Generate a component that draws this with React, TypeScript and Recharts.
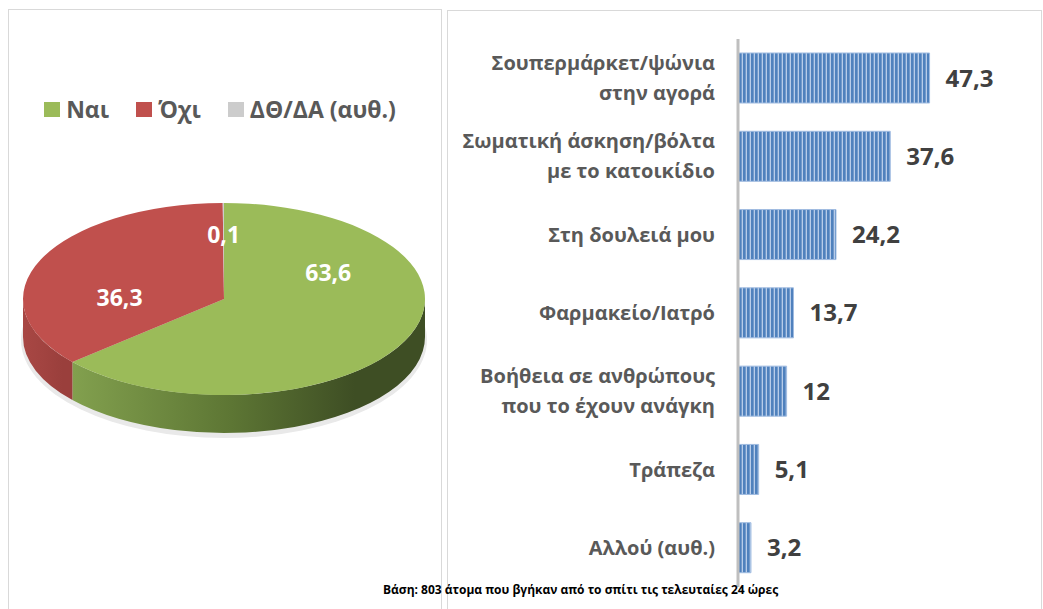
import React from "react";
import {
  PieChart,
  Pie,
  Cell,
  Legend,
  BarChart,
  Bar,
  XAxis,
  YAxis,
  LabelList,
} from "recharts";

/* ── data ── */

const answerNames = ["Ναι", "Όχι", "ΔΘ/ΔΑ (αυθ.)"];
const answerValues = [63.6, 36.3, 0.1];

const placeNames = [
  "Σουπερμάρκετ/ψώνια\nστην αγορά",
  "Σωματική άσκηση/βόλτα\nμε το κατοικίδιο",
  "Στη δουλειά μου",
  "Φαρμακείο/Ιατρό",
  "Βοήθεια σε ανθρώπους\nπου το έχουν ανάγκη",
  "Τράπεζα",
  "Αλλού (αυθ.)",
];
const placeValues = [47.3, 37.6, 24.2, 13.7, 12, 5.1, 3.2];

const footNote = "Βάση: 803 άτομα που βγήκαν από το σπίτι τις τελευταίες 24 ώρες";

/* ── styling ── */

const FONT = "'Open Sans', 'Noto Sans', sans-serif";
const TOP_COLORS = ["#9bbb59", "#c0504d", "#cccccc"];
const SIDE_STOPS = [
  ["#82a04e", "#5d7634", "#3e4e24"],
  ["#a84744", "#a14340", "#9a3f3c"],
  ["#b5b5b5", "#a8a8a8", "#9c9c9c"],
];
const TILT = 96 / 201; // vertical squash of the pie disc
const DEPTH = 38;
const LABEL_LIFT = [0.28, 0.02, 0.68];
const RAD = Math.PI / 180;

const pieData = answerNames.map((name, i) => ({ name, value: answerValues[i] }));
const barData = placeNames.map((place, i) => ({ place, value: placeValues[i] }));

const fmt = (v: number | string) => String(v).replace(".", ",");

/* ── 3D-ish pie slice ── */

function Slice(props: any) {
  const { cx, cy, outerRadius, startAngle, endAngle, fill } = props;
  const idx = Math.max(0, TOP_COLORS.indexOf(fill));
  const rx = outerRadius;
  const ry = outerRadius * TILT;
  const p = (a: number, dy = 0) =>
    `${cx + rx * Math.cos(a * RAD)},${cy - ry * Math.sin(a * RAD) + dy}`;

  const large = Math.abs(startAngle - endAngle) > 180 ? 1 : 0;
  const dir = startAngle > endAngle ? 1 : 0;
  const top = `M${cx},${cy} L${p(startAngle)} A${rx},${ry} 0 ${large} ${dir} ${p(endAngle)} Z`;

  // front wall: only the part of the slice on the lower half of the disc
  const lo = Math.min(startAngle, endAngle);
  const hi = Math.max(startAngle, endAngle);
  const sides: string[] = [];
  for (const k of [-1, 0, 1]) {
    const s = Math.max(lo, -180 + 360 * k);
    const e = Math.min(hi, 360 * k);
    if (e > s) {
      sides.push(
        `M${p(e)} A${rx},${ry} 0 0 1 ${p(s)} L${p(s, DEPTH)} A${rx},${ry} 0 0 0 ${p(e, DEPTH)} Z`
      );
    }
  }
  const gid = `side-grad-${idx}`;
  const stops = SIDE_STOPS[idx];

  return (
    <g>
      <defs>
        <linearGradient id={gid} x1="0" y1="0" x2="1" y2="0">
          <stop offset="0%" stopColor={stops[0]} />
          <stop offset="45%" stopColor={stops[1]} />
          <stop offset="80%" stopColor={stops[2]} />
          <stop offset="100%" stopColor={stops[2]} />
        </linearGradient>
      </defs>
      {idx === 0 && (
        <ellipse cx={cx} cy={cy + DEPTH + 3} rx={rx + 2} ry={ry + 2} fill="#e9e9e9" />
      )}
      {sides.map((d, i) => (
        <path key={i} d={d} fill={`url(#${gid})`} />
      ))}
      <path d={top} fill={fill} />
    </g>
  );
}

function SliceLabel(props: any) {
  const { cx, cy, midAngle, outerRadius, value, index } = props;
  const ry = outerRadius * TILT;
  const x = cx + outerRadius * 0.57 * Math.cos(midAngle * RAD);
  const y = cy - ry * LABEL_LIFT[index];
  return (
    <text
      x={x}
      y={y}
      textAnchor="middle"
      dominantBaseline="central"
      fill="#ffffff"
      fontSize={23}
      fontWeight={700}
      fontFamily={FONT}
    >
      {fmt(value)}
    </text>
  );
}

function PieLegend({ payload }: any) {
  const items = [...(payload ?? [])].sort(
    (a: any, b: any) => answerNames.indexOf(a.value) - answerNames.indexOf(b.value)
  );
  return (
    <div style={{ display: "flex", justifyContent: "center", gap: 27, fontFamily: FONT }}>
      {items.map((it: any, i: number) => (
        <div key={i} style={{ display: "flex", alignItems: "center" }}>
          <span
            style={{
              width: 16,
              height: 15,
              background: it.color ?? TOP_COLORS[i],
              marginRight: 6,
              display: "inline-block",
            }}
          />
          <span style={{ fontSize: 23, fontWeight: 700, color: "#595959", lineHeight: "30px" }}>
            {it.value}
          </span>
        </div>
      ))}
    </div>
  );
}

/* ── bar chart ticks ── */

function PlaceTick({ x, y, payload }: any) {
  const lines = String(payload.value).split("\n");
  const first = lines.length === 1 ? y + 7 : y - 8;
  return (
    <text textAnchor="end" fill="#595959" fontSize={20} fontWeight={700} fontFamily={FONT}>
      {lines.map((line, i) => (
        <tspan key={i} x={x} y={first + i * 30}>
          {line}
        </tspan>
      ))}
    </text>
  );
}

export default function App() {
  const panel: React.CSSProperties = {
    position: "absolute",
    border: "1px solid #d9d9d9",
    boxSizing: "border-box",
    height: 640,
  };

  return (
    <div
      style={{
        position: "absolute",
        left: 0,
        top: 0,
        width: 1043,
        height: 609,
        overflow: "hidden",
        background: "#ffffff",
        fontFamily: FONT,
      }}
    >
      <div style={{ ...panel, left: 8, top: 9, width: 434 }} />
      <div style={{ ...panel, left: 447, top: 10, width: 595 }} />

      <div style={{ position: "absolute", left: 0, top: 0 }}>
        <PieChart width={449} height={609} margin={{ top: 0, right: 0, bottom: 0, left: 0 }}>
          <Pie
            data={pieData}
            dataKey="value"
            nameKey="name"
            cx={224}
            cy={299}
            outerRadius={201}
            startAngle={90}
            endAngle={-270}
            stroke="none"
            shape={Slice}
            activeShape={Slice}
            label={SliceLabel}
            labelLine={false}
            isAnimationActive={false}
          >
            {pieData.map((d, i) => (
              <Cell key={d.name} fill={TOP_COLORS[i]} />
            ))}
          </Pie>
          <Legend
            verticalAlign="bottom"
            content={PieLegend}
            wrapperStyle={{ top: 94, bottom: "auto", left: 0, width: 440 }}
          />
        </PieChart>
      </div>

      <div style={{ position: "absolute", left: 447, top: 0 }}>
        <BarChart
          width={596}
          height={609}
          layout="vertical"
          data={barData}
          margin={{ top: 39, right: 62, bottom: 22, left: 0 }}
        >
          <defs>
            <pattern id="bar-stripes" width="4" height="10" patternUnits="userSpaceOnUse">
              <rect width="4" height="10" fill="#4f81bd" />
              <rect x="2.7" width="1.2" height="10" fill="#c3d5ee" />
            </pattern>
          </defs>
          <XAxis type="number" domain={[0, 60]} hide />
          <YAxis
            type="category"
            dataKey="place"
            width={291}
            interval={0}
            tickLine={false}
            tickSize={0}
            tickMargin={23}
            axisLine={{ stroke: "#bfbfbf", strokeWidth: 3 }}
            tick={PlaceTick}
          />
          <Bar
            dataKey="value"
            barSize={50}
            fill="url(#bar-stripes)"
            stroke="#9fbbe0"
            strokeWidth={1}
            isAnimationActive={false}
          >
            <LabelList
              dataKey="value"
              position="right"
              offset={16}
              formatter={(v: any) => fmt(v)}
              style={{ fill: "#404040", fontSize: 24, fontWeight: 700, fontFamily: FONT }}
            />
          </Bar>
        </BarChart>
      </div>

      <div
        style={{
          position: "absolute",
          left: 383,
          top: 581,
          fontSize: 12,
          fontWeight: 700,
          color: "#000000",
          whiteSpace: "nowrap",
          fontFamily: FONT,
        }}
      >
        {footNote}
      </div>
    </div>
  );
}
